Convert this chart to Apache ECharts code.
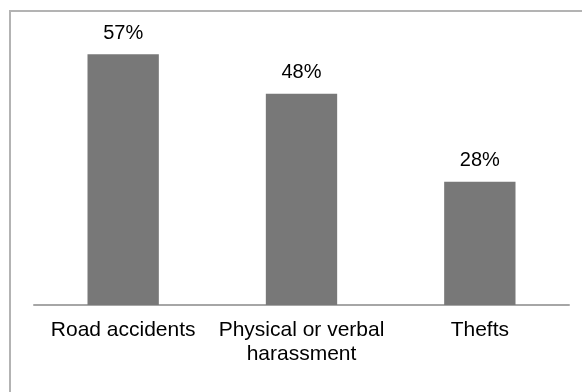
<!DOCTYPE html>
<html>
<head>
<meta charset="utf-8">
<style>
  html, body { margin: 0; padding: 0; background: #ffffff; }
  #chart { width: 582px; height: 392px; }
</style>
<script src="https://cdn.jsdelivr.net/npm/echarts@6/dist/echarts.min.js"></script>
</head>
<body>
<div id="chart"></div>
<script>
// Share of respondents per incident type (%)
const categories = ['Road accidents', 'Physical or verbal\nharassment', 'Thefts'];
const shares = [57, 48, 28];

const chart = echarts.init(document.getElementById('chart'), null, { renderer: 'canvas' });

chart.setOption({
  animation: false,
  backgroundColor: '#ffffff',
  textStyle: { fontFamily: 'Liberation Sans, Arial, sans-serif' },
  graphic: [{
    type: 'rect',
    shape: { x: 10, y: 11, width: 600, height: 420 },
    style: { fill: 'none', stroke: '#b3b3b3', lineWidth: 2 },
    silent: true
  }],
  grid: { left: 34, right: 13, top: 41, bottom: 87, containLabel: false },
  xAxis: {
    type: 'category',
    data: categories,
    axisLine: { show: true, lineStyle: { color: '#a6a6a6', width: 2 } },
    axisTick: { show: false },
    axisLabel: {
      color: '#000000',
      fontSize: 21,
      lineHeight: 24,
      margin: 13,
      interval: 0
    }
  },
  yAxis: {
    type: 'value',
    min: 0,
    max: 60,
    show: false,
    splitLine: { show: false }
  },
  series: [{
    type: 'bar',
    data: shares,
    barWidth: '40%',
    itemStyle: { color: '#787878' },
    label: {
      show: true,
      position: 'top',
      distance: 11,
      color: '#000000',
      fontSize: 20,
      formatter: p => p.value + '%'
    }
  }]
});
</script>
</body>
</html>
